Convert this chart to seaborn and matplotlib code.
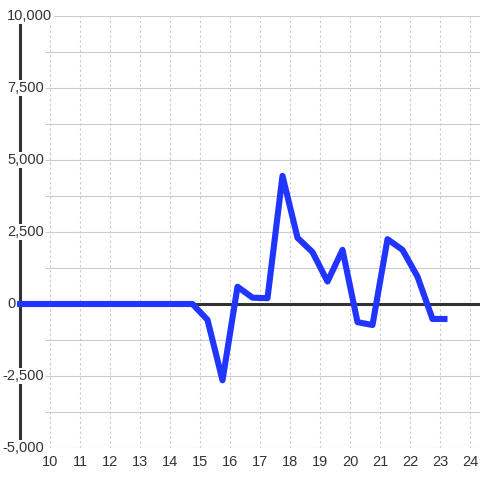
import seaborn as sns
import matplotlib.pyplot as plt
import matplotlib.transforms as mtransforms
import pandas as pd

# weekly values
week = [8.75, 9.25, 9.75, 10.25, 10.75, 11.25, 11.75, 12.25, 12.75, 13.25,
        13.75, 14.25, 14.75, 15.25, 15.75, 16.25, 16.75, 17.25, 17.75, 18.25,
        18.75, 19.25, 19.75, 20.25, 20.75, 21.25, 21.75, 22.25, 22.75, 23.25]
value = [0, 0, 0, 0, 0, 0, 0, 0, 0, 0,
         0, 0, 0, -550, -2650, 600, 220, 200, 4450, 2300,
         1800, 780, 1880, -630, -730, 2250, 1880, 950, -520, -520]

x_ticks = list(range(10, 25))
y_labels = [-5000, -2500, 0, 2500, 5000, 7500, 10000]
y_grid = [-5000, -3750, -2500, -1250, 0, 1250, 2500, 3750, 5000, 6250, 7500, 8750, 10000]

df = pd.DataFrame({'week': week, 'value': value})

sns.set_style("white")
plt.rcParams['font.family'] = ['Liberation Sans', 'DejaVu Sans']

fig = plt.figure(figsize=(4.8, 4.8), dpi=100)
ax = fig.add_axes([17 / 480, 32 / 480, 463 / 480, 432 / 480])
x_left = 10 - 33 / 30
x_right = 10 + 430 / 30
ax.set_xlim(x_left, x_right)
ax.set_ylim(-5000, 10000)

for s in ax.spines.values():
    s.set_visible(False)

# grid
ax.hlines(y_grid, 10 - 5 / 30, x_right, color='#cccccc', lw=0.8, zorder=1)
ax.vlines(x_ticks, -5000, 10000, color='#cccccc', lw=0.8,
          linestyles=(0, (2.2, 2.2)), zorder=1)

# axis lines
ax.axvline(9.0, color='#333333', lw=2.2, zorder=2)
ax.axhline(0, color='#333333', lw=2.2, zorder=2)

sns.lineplot(data=df, x='week', y='value', ax=ax, color='#2035ff',
             lw=4.4, zorder=3, solid_joinstyle='round', solid_capstyle='butt')

ax.set_xticks(x_ticks)
ax.set_xticklabels([str(t) for t in x_ticks], fontsize=10.5, color='#333333')
ax.tick_params(axis='x', length=0, pad=5)
ax.set_yticks([])
ax.set_xlabel('')
ax.set_ylabel('')

trans = mtransforms.blended_transform_factory(fig.transFigure, ax.transData)
for v in y_labels:
    x0 = 2 / 480 if v < 0 else 7 / 480
    ax.text(x0, v, f"{v:,}", transform=trans, ha='left', va='center',
            fontsize=10.5, color='#333333', zorder=5, clip_on=False,
            bbox=dict(facecolor='white', edgecolor='none', pad=1.0))

fig.savefig('out.png', dpi=100)
